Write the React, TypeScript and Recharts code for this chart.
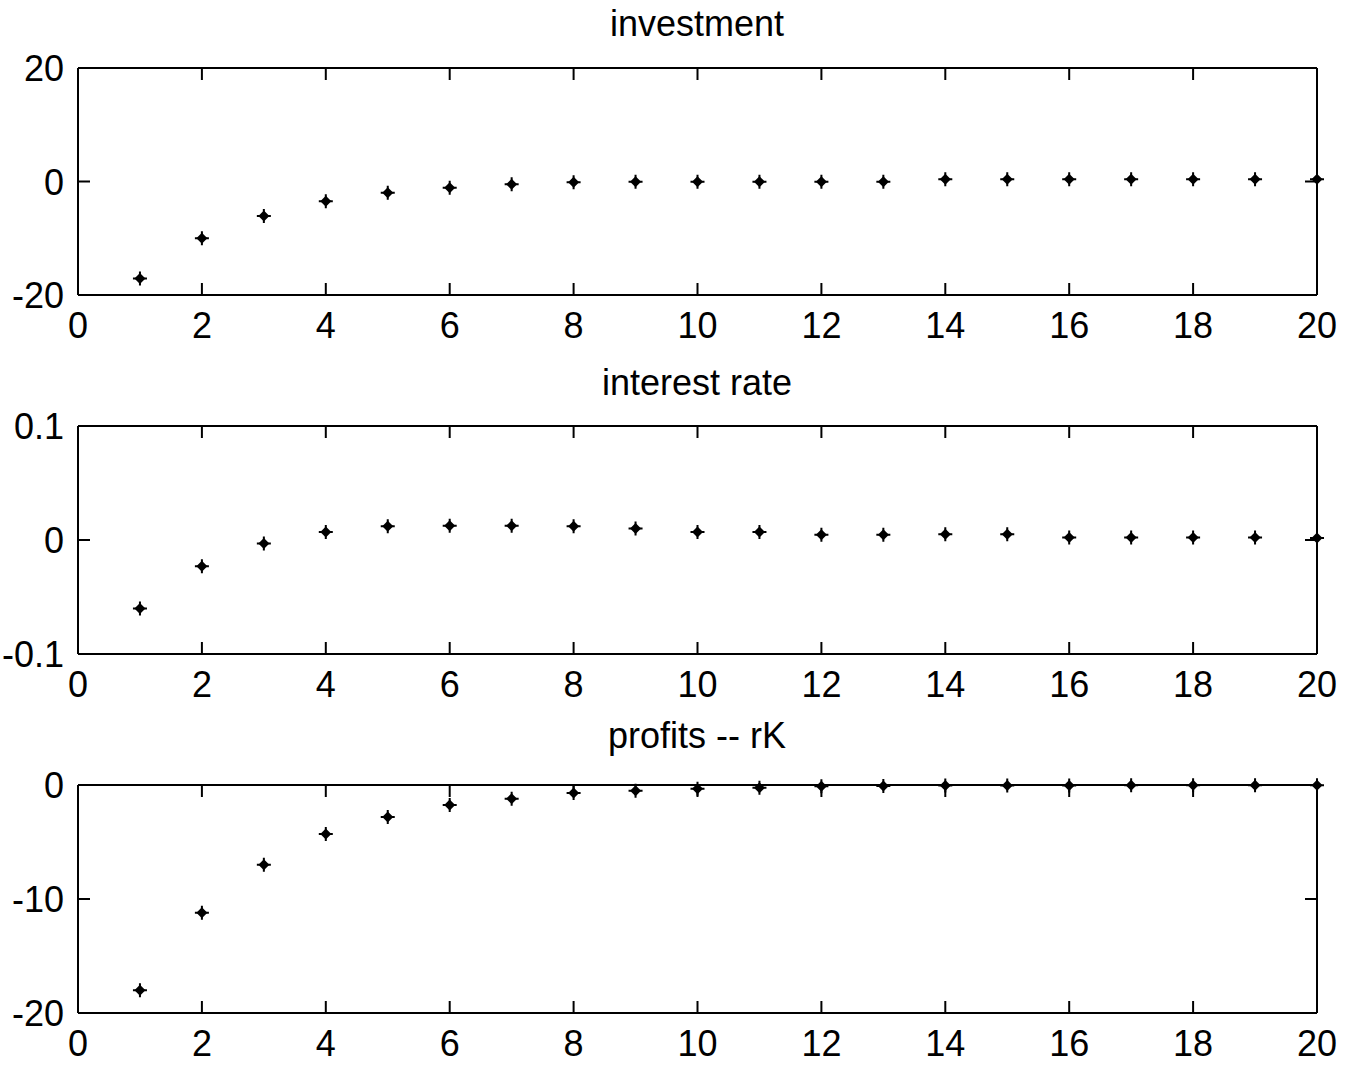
import React from 'react';
import { ScatterChart, Scatter, XAxis, YAxis } from 'recharts';

const periods = [1, 2, 3, 4, 5, 6, 7, 8, 9, 10, 11, 12, 13, 14, 15, 16, 17, 18, 19, 20];
const investment = [-17.1, -10.0, -6.1, -3.5, -2.0, -1.1, -0.5, -0.15, -0.05, -0.05, -0.05, -0.05, -0.05, 0.4, 0.4, 0.4, 0.4, 0.4, 0.4, 0.4];
const interestRate = [-0.06, -0.023, -0.003, 0.007, 0.012, 0.0125, 0.0125, 0.012, 0.01, 0.007, 0.007, 0.0045, 0.0045, 0.005, 0.005, 0.0023, 0.0023, 0.0023, 0.0023, 0.0018];
const profits = [-18.0, -11.2, -7.0, -4.3, -2.8, -1.75, -1.2, -0.7, -0.5, -0.33, -0.25, -0.12, -0.08, -0.05, -0.04, -0.04, -0.03, -0.03, -0.03, -0.02];

const xTicks = [0, 2, 4, 6, 8, 10, 12, 14, 16, 18, 20];
const invTicks = [-20, 0, 20];
const rateTicks = [-0.1, 0, 0.1];
const profitTicks = [-20, -10, 0];

const FONT = '"Liberation Sans", Arial, Helvetica, sans-serif';
const FS = 36;
const TL = 12;
const SIDE = 10;

const BottomTick = (props: any) => {
  const { x, y, payload } = props;
  return (
    <g>
      <line x1={x} x2={x} y1={y} y2={y - TL} stroke="#000" strokeWidth={2} />
      <text x={x} y={y + 43} textAnchor="middle" fontFamily={FONT} fontSize={FS} fill="#000">
        {String(payload.value)}
      </text>
    </g>
  );
};

const TopTick = (props: any) => {
  const { x, y } = props;
  return <line x1={x} x2={x} y1={y} y2={y + TL} stroke="#000" strokeWidth={2} />;
};

const LeftTick = (props: any) => {
  const { x, y, payload } = props;
  return (
    <g>
      <line x1={x} x2={x + TL} y1={y} y2={y} stroke="#000" strokeWidth={2} />
      <text x={x - 14} y={y + 13} textAnchor="end" fontFamily={FONT} fontSize={FS} fill="#000">
        {String(payload.value)}
      </text>
    </g>
  );
};

const RightTick = (props: any) => {
  const { x, y } = props;
  return <line x1={x} x2={x - TL} y1={y} y2={y} stroke="#000" strokeWidth={2} />;
};

const StarMarker = (props: any) => {
  const { cx, cy } = props;
  if (cx == null || cy == null) return null;
  const r = 5.5;
  return (
    <g>
      <path d={`M${cx - 7},${cy}L${cx + 7},${cy}M${cx},${cy - 7}L${cx},${cy + 7}`} stroke="#000" strokeWidth={2} />
      <polygon points={`${cx},${cy - r} ${cx + r},${cy} ${cx},${cy + r} ${cx - r},${cy}`} fill="#000" />
    </g>
  );
};

const NoMarker = () => null;

type PanelProps = {
  title: string;
  values: number[];
  yDomain: [number, number];
  yTicks: number[];
  top: number;
  height: number;
  plotTop: number;
  plotBottom: number;
  titleBaseline: number;
};

const axisLine = { stroke: '#000', strokeWidth: 2 };

const Panel = ({ title, values, yDomain, yTicks, top, height, plotTop, plotBottom, titleBaseline }: PanelProps) => {
  const data = periods.map((p, i) => ({ x: p, y: values[i] }));
  const marginTop = plotTop - top - SIDE;
  const marginBottom = height - (plotBottom - top) - 50;
  return (
    <div style={{ position: 'absolute', left: 0, top, width: 1345, height }}>
      <div
        style={{
          position: 'absolute',
          left: 0,
          width: 1394,
          textAlign: 'center',
          top: titleBaseline - 30.5,
          fontFamily: FONT,
          fontSize: FS,
          lineHeight: `${FS}px`,
          color: '#000',
          whiteSpace: 'nowrap',
        }}
      >
        {title}
      </div>
      <ScatterChart width={1345} height={height} margin={{ top: marginTop, right: 28 - SIDE, bottom: marginBottom, left: 0 }}>
        <XAxis
          xAxisId="b"
          type="number"
          dataKey="x"
          domain={[0, 20]}
          ticks={xTicks}
          interval={0}
          orientation="bottom"
          height={50}
          tickSize={0}
          tickMargin={0}
          tickLine={false}
          axisLine={axisLine}
          tick={<BottomTick />}
        />
        <XAxis
          xAxisId="t"
          type="number"
          dataKey="x"
          domain={[0, 20]}
          ticks={xTicks}
          interval={0}
          orientation="top"
          height={SIDE}
          tickSize={0}
          tickMargin={0}
          tickLine={false}
          axisLine={axisLine}
          tick={<TopTick />}
        />
        <YAxis
          yAxisId="l"
          type="number"
          dataKey="y"
          domain={yDomain}
          ticks={yTicks}
          interval={0}
          orientation="left"
          width={78}
          tickSize={0}
          tickMargin={0}
          tickLine={false}
          axisLine={axisLine}
          tick={<LeftTick />}
        />
        <YAxis
          yAxisId="r"
          type="number"
          dataKey="y"
          domain={yDomain}
          ticks={yTicks}
          interval={0}
          orientation="right"
          width={SIDE}
          tickSize={0}
          tickMargin={0}
          tickLine={false}
          axisLine={axisLine}
          tick={<RightTick />}
        />
        <Scatter xAxisId="t" yAxisId="r" data={data} shape={<NoMarker />} isAnimationActive={false} />
        <Scatter xAxisId="b" yAxisId="l" data={data} shape={<StarMarker />} isAnimationActive={false} />
      </ScatterChart>
    </div>
  );
};

export default function App() {
  return (
    <div style={{ position: 'absolute', left: 0, top: 0, width: 1345, height: 1066, overflow: 'hidden', background: '#fff' }}>
      <Panel title="investment" values={investment} yDomain={[-20, 20]} yTicks={invTicks} top={0} height={355} plotTop={68} plotBottom={295} titleBaseline={36} />
      <Panel title="interest rate" values={interestRate} yDomain={[-0.1, 0.1]} yTicks={rateTicks} top={358} height={355} plotTop={426} plotBottom={654} titleBaseline={37} />
      <Panel title="profits -- rK" values={profits} yDomain={[-20, 0]} yTicks={profitTicks} top={716} height={350} plotTop={785} plotBottom={1013} titleBaseline={32} />
    </div>
  );
}
